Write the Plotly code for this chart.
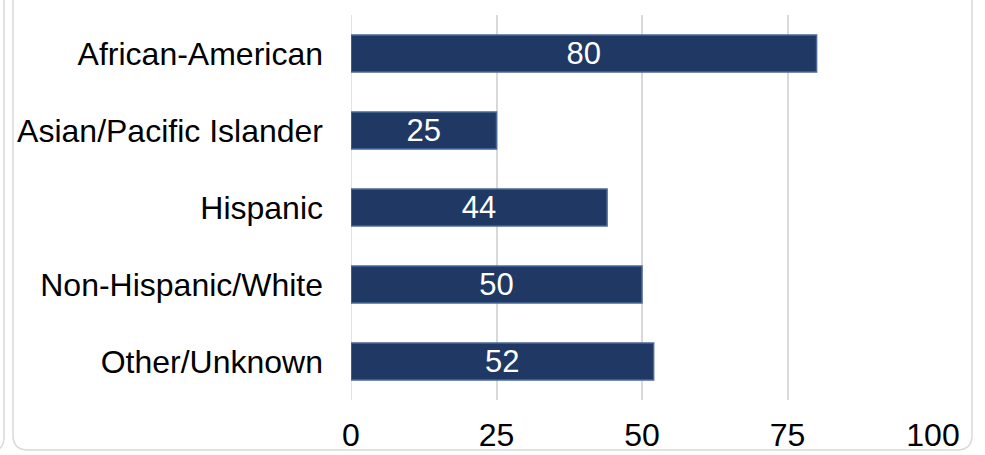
import plotly.graph_objects as go

categories = ["African-American", "Asian/Pacific Islander", "Hispanic", "Non-Hispanic/White", "Other/Unknown"]
values = [80, 25, 44, 50, 52]
tick_vals = [0, 25, 50, 75, 100]
tick_text = ["0", "25", "50", "75", "100"]

W, H = 985, 455
L, R, T, B = 351, 52, 15, 55
pw = W - L - R
ph = H - T - B


def px(x):
    return (x - L) / pw


def py(y):
    return (H - B - y) / ph


fig = go.Figure()
fig.add_trace(go.Bar(
    y=categories[::-1], x=values[::-1], orientation="h",
    width=0.48,
    marker=dict(color="#1f3864", line=dict(color="#4a6899", width=1.5)),
    text=[str(v) for v in values[::-1]], textposition="inside",
    insidetextanchor="middle", textangle=0, constraintext="none",
    textfont=dict(family="Liberation Sans, Arial", size=31, color="white"),
    hoverinfo="skip",
))

frame = (f"M {px(13)},{py(-10)} L {px(13)},{py(435)} Q {px(13)},{py(450)} {px(28)},{py(450)} "
         f"L {px(957)},{py(450)} Q {px(972)},{py(450)} {px(972)},{py(435)} L {px(972)},{py(-10)}")
outer = f"M {px(4)},{py(-10)} L {px(4)},{py(438)} Q {px(4)},{py(448)} {px(-6)},{py(452)}"

fig.update_layout(
    width=W, height=H,
    margin=dict(l=L, r=R, t=T, b=B),
    paper_bgcolor="white", plot_bgcolor="white",
    showlegend=False,
    font=dict(family="Liberation Sans, Arial", size=32, color="black"),
    xaxis=dict(range=[0, 100], tickvals=tick_vals, ticktext=tick_text,
               showgrid=True, gridcolor="#d9d9d9", gridwidth=1.5,
               zeroline=False, showline=False, ticks="",
               ticklabelstandoff=13,
               tickfont=dict(size=32), fixedrange=True, automargin=False),
    yaxis=dict(range=[-0.5, 4.5], showgrid=False, zeroline=False, ticks="",
               showline=False, ticklabelstandoff=27, automargin=False,
               tickfont=dict(size=32), fixedrange=True),
    shapes=[
        dict(type="path", path=frame, xref="paper", yref="paper",
             line=dict(color="#d9d9d9", width=1.5), layer="below"),
        dict(type="path", path=outer, xref="paper", yref="paper",
             line=dict(color="#d9d9d9", width=1.5), layer="below"),
        dict(type="line", xref="x", yref="paper", x0=0, x1=0, y0=0, y1=1,
             line=dict(color="#d9d9d9", width=1.5), layer="below"),
    ],
)

fig.write_html("out.html", config={"displayModeBar": False})

with open("out.html", "r", encoding="utf-8") as f:
    html = f.read()
html = html.replace("<body>", '<body style="margin:0;overflow:hidden">', 1)
with open("out.html", "w", encoding="utf-8") as f:
    f.write(html)
